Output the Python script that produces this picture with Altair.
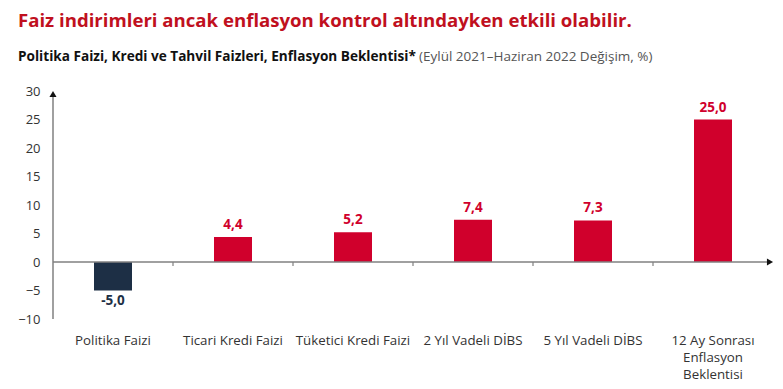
import altair as alt
import pandas as pd

categories = ["Politika Faizi", "Ticari Kredi Faizi", "Tüketici Kredi Faizi",
              "2 Yıl Vadeli DİBS", "5 Yıl Vadeli DİBS",
              "12 Ay Sonrası\nEnflasyon\nBeklentisi"]
values = [-5.0, 4.4, 5.2, 7.4, 7.3, 25.0]
y_ticks = [-10, -5, 0, 5, 10, 15, 20, 25, 30]

title_text = "Faiz indirimleri ancak enflasyon kontrol altındayken etkili olabilir."
subtitle_bold = "Politika Faizi, Kredi ve Tahvil Faizleri, Enflasyon Beklentisi*"
subtitle_rest = "(Eylül 2021–Haziran 2022 Değişim, %)"

RED = "#d0002c"
NAVY = "#1d2f45"
FONT = "Open Sans"

df = pd.DataFrame({"cat": categories, "val": values})
df["color"] = [NAVY if v < 0 else RED for v in values]
df["lab"] = [f"{v:.1f}".replace(".", ",") for v in values]

W, H = 720, 228
xaxis = alt.Axis(labelExpr="split(datum.label, '\\n')", labelAngle=0,
                 domain=False, ticks=False, labelPadding=21,
                 labelFont=FONT, labelFontSize=13.3, labelColor="#333333",
                 labelLineHeight=17, labelBaseline="middle", labelLimit=0)
xscale = alt.Scale(paddingInner=0, paddingOuter=0)
xenc = alt.X("cat:N", sort=categories, title=None, scale=xscale, axis=xaxis)
yscale = alt.Scale(domain=[-10, 30], nice=False)
yaxis = alt.Axis(values=y_ticks, grid=False, ticks=False, domain=False,
                 labelPadding=13, labelFont=FONT, labelFontSize=13,
                 labelColor="#333333", labelOverlap=False, tickCount=9)
yenc = alt.Y("val:Q", scale=yscale, title=None, axis=yaxis)

base = alt.Chart(df)
bars = base.mark_bar(size=38).encode(x=xenc, y=yenc, y2=alt.datum(0),
                                      color=alt.Color("color:N", scale=None))
pos_lab = base.transform_filter("datum.val >= 0").mark_text(
    font=FONT, fontSize=13.5, fontWeight="bold", baseline="bottom", dy=-5
).encode(x=xenc, y=yenc, text="lab:N", color=alt.Color("color:N", scale=None))
neg_lab = base.transform_filter("datum.val < 0").mark_text(
    font=FONT, fontSize=13.5, fontWeight="bold", baseline="top", dy=3
).encode(x=xenc, y=yenc, text="lab:N", color=alt.Color("color:N", scale=None))

one = alt.Chart(pd.DataFrame({"a": [0]}))
zero_line = one.mark_rule(color="#808080", strokeWidth=1.5).encode(
    x=alt.value(0), x2=alt.value(W - 4),
    y=alt.Y("z:Q", scale=yscale, title=None, axis=yaxis)
).transform_calculate(z="0")
y_line = one.mark_rule(color="#808080", strokeWidth=1.5).encode(
    x=alt.value(0), y=alt.value(2), y2=alt.value(H))
tick_df = pd.DataFrame({"cat": categories[1:]})
ticks = alt.Chart(tick_df).mark_rule(color="#808080", strokeWidth=1.2).encode(
    x=alt.X("cat:N", sort=categories, bandPosition=0, title=None, scale=xscale, axis=xaxis),
    y=alt.Y("t0:Q", scale=yscale, title=None, axis=yaxis), y2="t1:Q"
).transform_calculate(t0="0", t1="-0.7")
arrow_up = one.mark_point(shape="triangle-up", filled=True, color="#111111",
                          size=50, opacity=1).encode(x=alt.value(0), y=alt.value(3))
arrow_right = one.mark_point(shape="triangle-right", filled=True, color="#111111",
                             size=50, opacity=1).encode(
    x=alt.value(W - 3),
    y=alt.Y("z:Q", scale=yscale, title=None, axis=yaxis)).transform_calculate(z="0")

title = one.mark_text(text=title_text, font=FONT, fontSize=18.6, fontWeight="bold",
                      color="#c0101e", align="left", baseline="middle").encode(
    x=alt.value(-35), y=alt.value(-70))
sub1 = one.mark_text(text=subtitle_bold, font=FONT, fontSize=13.6, fontWeight="bold",
                     color="#111111", align="left", baseline="middle").encode(
    x=alt.value(-35), y=alt.value(-34))
sub2 = one.mark_text(text=subtitle_rest, font=FONT, fontSize=13.5,
                     color="#555555", align="left", baseline="middle").encode(
    x=alt.value(366), y=alt.value(-34))

chart = alt.layer(bars, zero_line, y_line, ticks, arrow_up, arrow_right,
                  pos_lab, neg_lab, title, sub1, sub2).properties(
    width=W, height=H,
    autosize=alt.AutoSizeParams(type="none"),
    padding={"left": 45, "top": 83, "right": 2, "bottom": 68},
    background="white",
).resolve_axis(y="shared").configure_view(stroke=None)

chart.save("out.html", embed_options={"renderer": "svg", "actions": False})
